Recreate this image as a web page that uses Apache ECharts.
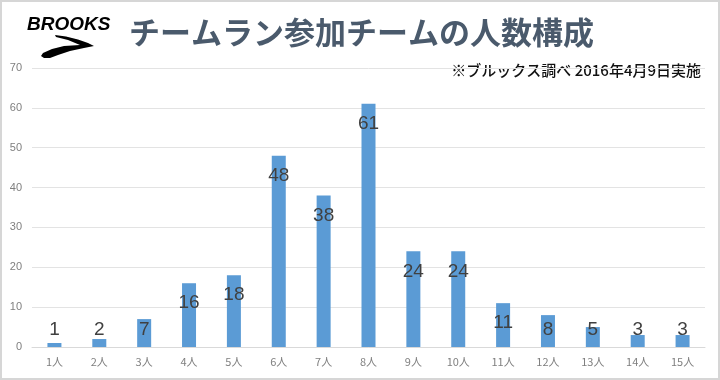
<!DOCTYPE html>
<html><head><meta charset="utf-8">
<script src="https://cdn.jsdelivr.net/npm/echarts@6/dist/echarts.min.js"></script>
<style>
html,body{margin:0;padding:0;background:#fff;}
#wrap{width:720px;height:380px;box-sizing:border-box;border:2px solid #d6d6d6;position:relative;}
#c{position:absolute;left:-2px;top:-2px;width:720px;height:380px;}
</style></head>
<body><div id="wrap"><div id="c"></div></div>
<script>
const categories = ['1人','2人','3人','4人','5人','6人','7人','8人','9人','10人','11人','12人','13人','14人','15人'];
const teamCounts = [1,2,7,16,18,48,38,61,24,24,11,8,5,3,3];
const yTicks = [0,10,20,30,40,50,60,70];

const chart = echarts.init(document.getElementById('c'));
const option = {
  animation:false,
  grid:{left:32,right:15,top:68,bottom:33},
  xAxis:{type:'category',data:categories,
    axisLine:{lineStyle:{color:'#d9d9d9'}},axisTick:{show:false},
    axisLabel:{color:'#7f7f7f',fontSize:11,fontFamily:'Noto Sans CJK JP',margin:9}},
  yAxis:{type:'value',min:yTicks[0],max:yTicks[yTicks.length-1],interval:10,
    axisLine:{show:false},axisTick:{show:false},
    splitLine:{lineStyle:{color:'#e3e3e3'}},
    axisLabel:{color:'#7f7f7f',fontSize:11,fontFamily:'Liberation Sans',margin:10}},
  graphic:[
    {type:'text',x:27,y:15,style:{text:'BROOKS',font:'italic bold 19px "Liberation Sans"',fill:'#000'}},
    {type:'polygon',shape:{points:[[55,35],[66,36.5],[78,39.5],[88,43],[94,46],[84,48],[70,51],[58,55],[50,58],[44,58],[41,56],[43,53],[52,49],[64,46],[80,45],[68,40],[56,37]]},style:{fill:'#000'}},
    {type:'text',x:129,y:17,style:{text:'チームラン参加チームの人数構成',font:'bold 31px "Noto Sans CJK JP"',fill:'#4a5a6c'}},
    {type:'text',x:701,y:63,style:{text:'※ブルックス調べ 2016年4月9日実施',font:'500 15px "Noto Sans CJK JP"',fill:'#111',align:'right'}}
  ],
  series:[{type:'bar',data:teamCounts,barWidth:14,
    itemStyle:{color:'#5b9bd5'},
    label:{show:true,position:'insideTop',distance:11,color:'#404040',fontSize:19,fontFamily:'Liberation Sans'}}]
};
chart.setOption(option);
const zeroY = chart.convertToPixel({xAxisIndex:0,yAxisIndex:0},[0,0])[1];
const data = teamCounts.map((v,i)=>{
  const topY = chart.convertToPixel({xAxisIndex:0,yAxisIndex:0},[i,v])[1];
  const center = Math.min(topY+20, zeroY-17);
  return {value:v,label:{position:['50%',center-topY],align:'center',verticalAlign:'middle'}};
});
chart.setOption({series:[{data:data}]});
</script></body></html>
